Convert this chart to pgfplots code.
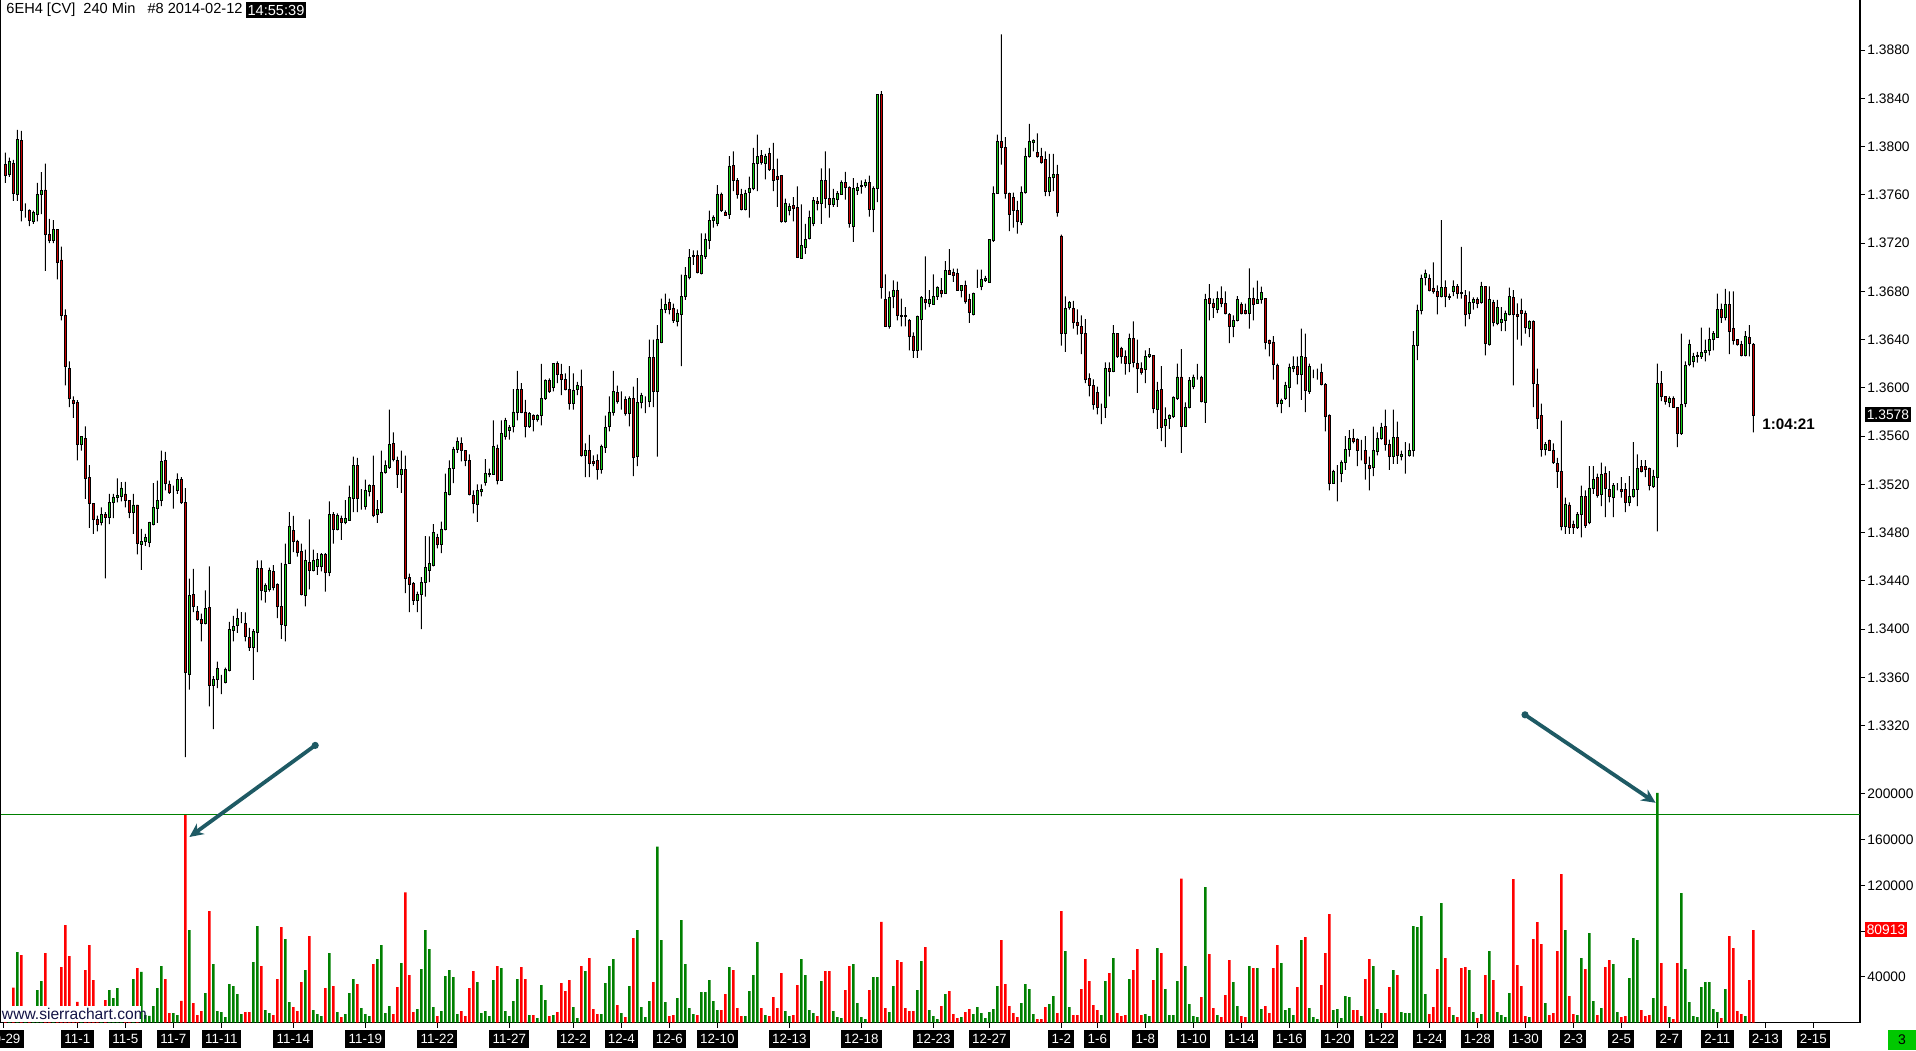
\documentclass[border=0pt]{standalone}
\usepackage{pgfplots}
\pgfplotsset{compat=1.18}
\usepackage{pgfplotstable}
\usepackage{fontspec}
\setmainfont{Liberation Sans}
\usetikzlibrary{arrows.meta}
\definecolor{cup}{RGB}{20,205,20}
\definecolor{cdn}{RGB}{200,0,0}
\definecolor{vup}{RGB}{0,128,0}
\definecolor{vdn}{RGB}{255,0,0}
\definecolor{teal2}{RGB}{30,90,100}
\definecolor{boxgreen}{RGB}{0,200,0}
\pgfplotstableread{
k o h l c v
0 13785 13795 13770 13776 10000
1 13777 13791 13775 13788 8000
2 13786 13789 13755 13761 30600
3 13760 13814 13755 13806 61600
4 13805 13813 13738 13747 58900
5 13747 13753 13741 13747 9000
6 13747 13748 13734 13739 8000
7 13738 13747 13736 13745 7000
8 13744 13770 13738 13760 28300
9 13760 13779 13744 13764 36200
10 13764 13786 13697 13727 60700
11 13727 13740 13720 13722 10000
12 13722 13739 13720 13731 9000
13 13731 13731 13690 13704 12000
14 13706 13717 13656 13660 48400
15 13660 13665 13602 13618 85200
16 13616 13622 13584 13591 58100
17 13590 13593 13575 13587 10000
18 13588 13590 13540 13553 18000
19 13553 13560 13548 13560 8000
20 13558 13568 13508 13525 45800
21 13526 13536 13484 13504 67700
22 13504 13504 13479 13491 37000
23 13491 13494 13481 13487 9000
24 13488 13501 13486 13495 10000
25 13495 13497 13442 13493 19500
26 13493 13512 13487 13505 28300
27 13505 13512 13492 13509 21300
28 13509 13525 13505 13511 30000
29 13510 13522 13506 13517 10000
30 13512 13522 13501 13507 12000
31 13507 13507 13492 13497 9000
32 13497 13512 13479 13503 38000
33 13503 13503 13462 13471 47600
34 13470 13483 13449 13473 44400
35 13473 13479 13469 13476 6400
36 13472 13489 13468 13488 5800
37 13487 13521 13486 13501 14300
38 13500 13523 13488 13507 30000
39 13507 13548 13502 13539 49300
40 13540 13547 13515 13521 38000
41 13520 13523 13512 13513 8200
42 13515 13519 13500 13515 8200
43 13515 13529 13512 13524 6400
44 13524 13526 13504 13505 19000
45 13505 13517 13294 13364 182000
46 13362 13442 13350 13428 80800
47 13429 13450 13414 13419 16900
48 13415 13419 13407 13408 6400
49 13408 13413 13390 13405 9900
50 13405 13432 13404 13417 25700
51 13418 13452 13336 13353 97500
52 13353 13361 13317 13358 51000
53 13358 13373 13351 13367 9900
54 13356 13362 13346 13356 9000
55 13356 13368 13355 13367 4700
56 13366 13406 13365 13400 33600
57 13399 13411 13390 13402 31800
58 13403 13417 13397 13409 24800
59 13408 13414 13405 13408 7300
60 13405 13414 13390 13394 9000
61 13393 13401 13382 13385 9000
62 13385 13400 13358 13398 52800
63 13397 13457 13381 13450 84300
64 13450 13457 13424 13432 49300
65 13431 13438 13422 13436 10800
66 13433 13451 13431 13449 8200
67 13448 13453 13432 13435 6400
68 13437 13438 13409 13419 38000
69 13419 13455 13392 13404 83500
70 13403 13471 13390 13454 73000
71 13454 13497 13454 13485 17800
72 13482 13494 13464 13473 13400
73 13473 13474 13460 13464 9900
74 13464 13471 13428 13429 35300
75 13428 13466 13419 13457 45800
76 13455 13491 13433 13449 75600
77 13449 13466 13448 13457 10800
78 13452 13463 13445 13458 7300
79 13452 13463 13448 13462 5500
80 13462 13463 13431 13447 30000
81 13447 13506 13444 13495 60700
82 13495 13497 13471 13483 31800
83 13483 13496 13482 13494 9000
84 13492 13494 13474 13488 4700
85 13488 13507 13487 13492 7300
86 13490 13519 13490 13509 25700
87 13508 13543 13497 13536 38000
88 13536 13542 13497 13508 33600
89 13507 13516 13499 13507 12500
90 13502 13524 13499 13515 7300
91 13514 13520 13510 13519 5500
92 13519 13544 13493 13494 51000
93 13495 13507 13488 13499 55400
94 13497 13548 13496 13530 67700
95 13530 13540 13529 13536 8200
96 13534 13582 13533 13553 14300
97 13554 13563 13539 13541 7300
98 13540 13543 13517 13528 30900
99 13528 13548 13513 13532 51900
100 13532 13544 13430 13442 114000
101 13443 13446 13414 13437 41400
102 13438 13439 13420 13424 9000
103 13424 13431 13414 13429 11700
104 13429 13443 13400 13439 46700
105 13439 13477 13427 13451 80800
106 13449 13477 13439 13454 64200
107 13453 13487 13452 13480 13400
108 13476 13479 13467 13470 5500
109 13470 13489 13463 13483 9900
110 13483 13529 13482 13513 40600
111 13512 13540 13511 13533 45800
112 13533 13551 13521 13549 39700
113 13549 13559 13546 13556 7300
114 13554 13559 13539 13548 9900
115 13548 13548 13535 13540 5500
116 13540 13545 13511 13512 30000
117 13511 13515 13496 13504 44900
118 13503 13520 13489 13515 35300
119 13514 13520 13510 13516 8200
120 13522 13541 13519 13529 9900
121 13528 13533 13526 13529 5500
122 13528 13573 13528 13551 37000
123 13550 13553 13520 13523 49300
124 13523 13573 13523 13562 47600
125 13560 13575 13557 13573 9900
126 13565 13569 13557 13567 5500
127 13568 13599 13563 13580 18700
128 13580 13614 13573 13599 38000
129 13599 13604 13579 13580 48400
130 13580 13590 13559 13568 38000
131 13568 13580 13567 13579 6400
132 13577 13578 13564 13574 6400
133 13574 13578 13572 13577 3800
134 13577 13620 13569 13591 32700
135 13591 13607 13590 13606 19500
136 13606 13608 13596 13597 5500
137 13600 13620 13597 13620 6400
138 13620 13622 13604 13611 9000
139 13611 13620 13594 13607 34400
140 13607 13612 13598 13599 27400
141 13599 13618 13582 13587 37000
142 13587 13612 13582 13598 13400
143 13599 13605 13594 13602 3800
144 13601 13615 13543 13544 49300
145 13544 13554 13526 13548 44900
146 13548 13561 13526 13537 56300
147 13539 13544 13535 13537 11700
148 13540 13545 13524 13532 7300
149 13532 13553 13529 13551 7300
150 13551 13577 13546 13567 34400
151 13568 13593 13564 13580 49300
152 13580 13614 13577 13597 55400
153 13596 13602 13587 13589 15200
154 13589 13597 13582 13589 8200
155 13590 13593 13577 13579 4700
156 13579 13593 13568 13591 31800
157 13591 13601 13527 13542 73800
158 13543 13608 13535 13588 80800
159 13588 13596 13583 13594 13400
160 13590 13593 13579 13590 4700
161 13589 13640 13584 13625 18700
162 13625 13640 13584 13597 35300
163 13597 13652 13543 13640 154000
164 13638 13674 13637 13665 72000
165 13665 13678 13662 13669 17800
166 13671 13674 13661 13665 5500
167 13666 13670 13654 13656 6400
168 13655 13665 13651 13662 21300
169 13661 13694 13618 13676 89600
170 13676 13700 13673 13693 51000
171 13692 13715 13690 13708 12500
172 13709 13714 13702 13710 7300
173 13710 13714 13695 13696 6400
174 13695 13728 13694 13710 26600
175 13709 13728 13707 13723 26600
176 13722 13747 13715 13739 37000
177 13739 13743 13733 13741 18700
178 13736 13768 13734 13760 10800
179 13760 13762 13746 13747 10800
180 13745 13747 13743 13743 24800
181 13744 13792 13740 13784 48400
182 13784 13796 13763 13772 45800
183 13772 13774 13757 13760 12500
184 13760 13765 13747 13748 5500
185 13748 13764 13747 13761 5500
186 13762 13775 13741 13765 27400
187 13765 13799 13764 13786 41400
188 13786 13810 13763 13792 70300
189 13793 13797 13785 13787 12500
190 13786 13794 13773 13792 6400
191 13794 13799 13780 13781 5500
192 13781 13803 13763 13772 22200
193 13775 13790 13750 13773 12500
194 13776 13776 13737 13738 43200
195 13738 13757 13737 13753 9900
196 13747 13753 13743 13750 5500
197 13751 13758 13738 13749 6400
198 13750 13767 13708 13708 32700
199 13707 13752 13707 13718 55400
200 13716 13736 13711 13723 41400
201 13724 13747 13723 13741 10800
202 13736 13758 13734 13755 8200
203 13755 13758 13747 13753 5500
204 13753 13782 13736 13772 36200
205 13772 13796 13749 13757 44900
206 13757 13782 13741 13752 44900
207 13752 13765 13750 13757 9900
208 13756 13763 13750 13761 4700
209 13760 13772 13760 13770 3800
210 13770 13779 13756 13766 28300
211 13766 13767 13733 13736 49300
212 13734 13774 13721 13765 51000
213 13764 13770 13760 13766 16900
214 13767 13772 13761 13768 4700
215 13768 13773 13766 13770 2900
216 13770 13776 13742 13748 28300
217 13748 13767 13729 13765 39700
218 13765 13843 13754 13843 39700
219 13843 13846 13674 13683 88100
220 13673 13694 13651 13651 12500
221 13651 13680 13649 13675 9000
222 13676 13689 13666 13681 31800
223 13681 13688 13656 13660 54600
224 13660 13674 13651 13659 52800
225 13660 13667 13651 13659 12500
226 13656 13657 13631 13643 9900
227 13643 13646 13625 13631 9900
228 13631 13660 13625 13659 28300
229 13657 13676 13631 13675 53700
230 13673 13709 13665 13671 65900
231 13670 13681 13667 13673 10800
232 13669 13694 13669 13676 5500
233 13676 13684 13673 13683 2900
234 13681 13691 13675 13678 14300
235 13678 13705 13678 13697 24800
236 13697 13715 13694 13694 27400
237 13696 13699 13688 13693 7300
238 13695 13699 13681 13681 3800
239 13681 13685 13675 13685 4700
240 13685 13689 13670 13672 9000
241 13673 13678 13654 13663 11700
242 13661 13679 13660 13678 7300
243 13685 13698 13683 13685 13400
244 13684 13698 13681 13690 8200
245 13689 13693 13688 13691 3800
246 13687 13723 13687 13723 9000
247 13722 13767 13721 13761 11700
248 13761 13810 13761 13804 31800
249 13804 13893 13785 13799 72000
250 13799 13808 13757 13761 33600
251 13761 13762 13730 13744 14300
252 13758 13762 13733 13747 8200
253 13747 13755 13728 13738 4700
254 13737 13767 13735 13762 16900
255 13762 13799 13761 13792 33600
256 13792 13819 13791 13804 29200
257 13803 13806 13796 13805 7300
258 13795 13811 13791 13792 2900
259 13792 13799 13786 13787 2900
260 13789 13796 13759 13763 13400
261 13763 13794 13759 13774 16000
262 13774 13794 13763 13777 23100
263 13777 13785 13742 13745 8200
264 13726 13727 13635 13645 97500
265 13645 13676 13630 13666 62400
266 13667 13672 13665 13671 13400
267 13666 13672 13649 13654 6400
268 13654 13665 13644 13652 6400
269 13651 13660 13628 13645 29200
270 13645 13657 13604 13607 55400
271 13608 13612 13593 13602 36200
272 13602 13607 13582 13586 15200
273 13596 13601 13578 13584 10800
274 13584 13587 13570 13584 6400
275 13584 13621 13575 13616 36200
276 13616 13621 13593 13614 43200
277 13614 13652 13613 13645 56300
278 13645 13645 13625 13626 8200
279 13633 13634 13620 13626 5500
280 13626 13631 13611 13620 6400
281 13620 13645 13613 13641 38000
282 13641 13655 13617 13621 45800
283 13620 13640 13596 13616 64200
284 13616 13621 13611 13613 6400
285 13615 13631 13604 13626 7300
286 13626 13633 13625 13628 5500
287 13627 13627 13579 13583 37000
288 13582 13605 13566 13598 65100
289 13599 13618 13556 13567 60700
290 13569 13584 13551 13574 29200
291 13575 13578 13566 13577 6400
292 13576 13593 13575 13592 6400
293 13591 13620 13590 13609 36200
294 13609 13632 13546 13568 126000
295 13568 13588 13568 13584 49300
296 13584 13609 13583 13606 16000
297 13601 13611 13599 13609 5500
298 13609 13620 13607 13609 4700
299 13609 13610 13588 13589 22200
300 13588 13678 13571 13673 118500
301 13674 13686 13656 13670 59800
302 13670 13674 13658 13667 12500
303 13665 13680 13662 13674 6400
304 13674 13684 13667 13670 4700
305 13670 13680 13661 13662 23900
306 13661 13662 13637 13651 54600
307 13651 13660 13642 13656 35300
308 13656 13676 13655 13673 14300
309 13669 13671 13661 13662 5500
310 13664 13670 13661 13662 4700
311 13662 13699 13649 13674 49300
312 13674 13683 13656 13669 47600
313 13670 13689 13670 13673 47600
314 13673 13684 13670 13679 11700
315 13674 13674 13632 13638 14300
316 13639 13640 13626 13637 8200
317 13638 13643 13607 13619 47600
318 13619 13620 13584 13587 67700
319 13587 13591 13579 13590 51900
320 13591 13605 13590 13602 10800
321 13600 13620 13584 13617 12500
322 13616 13626 13613 13618 6400
323 13618 13626 13603 13611 30900
324 13611 13649 13590 13626 72000
325 13625 13645 13580 13598 74700
326 13597 13620 13595 13618 12500
327 13613 13615 13608 13613 4700
328 13612 13616 13607 13612 2900
329 13613 13620 13602 13603 32700
330 13603 13604 13564 13576 60700
331 13577 13578 13515 13521 94800
332 13521 13532 13521 13531 10800
333 13529 13536 13506 13529 11700
334 13529 13540 13522 13538 3800
335 13538 13560 13532 13549 23100
336 13549 13565 13543 13558 22200
337 13558 13566 13554 13556 10800
338 13557 13558 13535 13548 10800
339 13548 13557 13540 13548 5500
340 13548 13560 13524 13537 38000
341 13536 13543 13515 13533 55400
342 13534 13568 13527 13548 49300
343 13547 13563 13544 13558 11700
344 13558 13571 13557 13567 8200
345 13568 13582 13548 13553 8200
346 13553 13557 13532 13543 30900
347 13543 13582 13537 13559 45800
348 13559 13572 13537 13544 41400
349 13543 13548 13540 13545 9000
350 13544 13555 13529 13544 8200
351 13544 13554 13543 13548 8200
352 13548 13647 13543 13635 84300
353 13635 13669 13623 13664 83500
354 13664 13694 13661 13691 93100
355 13692 13698 13685 13695 24800
356 13691 13694 13680 13681 7300
357 13682 13704 13678 13680 13400
358 13680 13685 13661 13676 46700
359 13676 13739 13675 13683 104500
360 13683 13689 13667 13676 56300
361 13676 13678 13673 13675 13400
362 13680 13689 13676 13684 6400
363 13684 13686 13674 13678 4700
364 13679 13717 13674 13678 47600
365 13677 13681 13651 13661 48400
366 13662 13680 13657 13671 45800
367 13671 13675 13665 13673 9000
368 13673 13675 13666 13670 3800
369 13671 13688 13670 13684 7300
370 13684 13684 13627 13637 41400
371 13636 13684 13635 13673 62400
372 13671 13673 13651 13654 37000
373 13653 13673 13652 13667 9000
374 13654 13667 13647 13657 6400
375 13656 13664 13647 13662 4700
376 13661 13683 13660 13676 25700
377 13675 13681 13602 13661 125500
378 13661 13670 13640 13659 50200
379 13664 13674 13635 13662 31800
380 13662 13664 13645 13650 5500
381 13649 13656 13642 13655 4700
382 13655 13656 13584 13604 73000
383 13603 13616 13566 13575 87800
384 13577 13587 13543 13549 68600
385 13549 13555 13544 13553 16900
386 13556 13557 13548 13548 6400
387 13548 13554 13537 13538 8200
388 13537 13542 13517 13531 62400
389 13531 13573 13482 13485 129900
390 13485 13509 13479 13503 80800
391 13503 13505 13479 13484 23100
392 13487 13490 13479 13484 7300
393 13484 13497 13483 13495 6400
394 13495 13519 13476 13510 56300
395 13510 13515 13484 13486 46700
396 13488 13535 13487 13517 78200
397 13517 13535 13512 13524 18700
398 13526 13529 13509 13511 6400
399 13512 13538 13502 13528 12500
400 13529 13535 13493 13517 48400
401 13516 13531 13505 13510 54600
402 13509 13521 13493 13519 51000
403 13519 13521 13515 13519 9000
404 13516 13526 13509 13514 4700
405 13516 13521 13497 13505 5500
406 13505 13527 13502 13510 38800
407 13510 13555 13509 13516 73800
408 13516 13545 13502 13533 72000
409 13535 13540 13530 13531 10800
410 13535 13540 13526 13532 5500
411 13533 13534 13515 13519 6400
412 13518 13532 13517 13527 21300
413 13526 13620 13481 13604 201000
414 13604 13614 13589 13593 51900
415 13593 13593 13586 13589 14300
416 13588 13593 13584 13591 4700
417 13591 13593 13584 13584 2900
418 13584 13584 13551 13562 51900
419 13562 13645 13561 13586 113200
420 13587 13622 13584 13619 46700
421 13619 13640 13618 13636 17800
422 13622 13629 13617 13626 5500
423 13626 13630 13621 13627 4700
424 13626 13650 13624 13629 30900
425 13629 13640 13622 13631 35300
426 13631 13650 13627 13640 35300
427 13640 13647 13631 13645 11700
428 13642 13678 13642 13665 9000
429 13665 13670 13654 13658 3800
430 13658 13682 13656 13669 29200
431 13669 13680 13628 13647 75600
432 13649 13680 13636 13639 65100
433 13640 13640 13635 13636 9900
434 13636 13639 13626 13627 7300
435 13627 13647 13626 13643 5500
436 13642 13652 13626 13637 37000
437 13636 13637 13563 13577 80913
}\data
\begin{document}
\begin{tikzpicture}
\fill[white] (0,0) rectangle (958pt,525pt);
% ---------------- volume panel ----------------
\begin{axis}[
  at={(0pt,13.75pt)}, anchor=south west, scale only axis,
  width=930pt, height=121.25pt,
  xmin=-1.33, xmax=463.67, ymin=0, ymax=212250,
  axis x line*=bottom, axis y line*=right,
  axis line style={black, line width=0.6pt},
  tick align=outside, major tick length=2.5pt,
  tick style={black, line width=0.5pt},
  scaled y ticks=false,
  ytick={40000,80000,120000,160000,200000},
  yticklabels={40000,,120000,160000,200000},
  yticklabel style={font=\fontsize{6.9}{8}\selectfont, anchor=west, inner sep=0pt, xshift=1pt},
  xtick={-0.5,18,30,42,54,72,90,108,126,142,154,166,178,196,214,232,246,264,273,285,297,309,321,333,344,356,368,380,392,404,416,428,440,452},
  xticklabels={10-29,11-1,11-5,11-7,11-11,11-14,11-19,11-22,11-27,12-2,12-4,12-6,12-10,12-13,12-18,12-23,12-27,1-2,1-6,1-8,1-10,1-14,1-16,1-20,1-22,1-24,1-28,1-30,2-3,2-5,2-7,2-11,2-13,2-15},
  xticklabel style={font=\fontsize{6.7}{8}\selectfont, fill=black, text=white, inner xsep=1.7pt, inner ysep=2.3pt, anchor=north, yshift=-0.8pt},
  clip=false,
]
\addplot[restrict expr to domain={\thisrow{c}-\thisrow{o}}{0:10000},
  ybar, bar width=0.6, bar shift=0pt, fill=vup, draw=none] table[x=k, y=v]{\data};
\addplot[restrict expr to domain={\thisrow{c}-\thisrow{o}}{-10000:-0.5},
  ybar, bar width=0.6, bar shift=0pt, fill=vdn, draw=none] table[x=k, y=v]{\data};
\addplot[vup, line width=0.5pt] coordinates {(-1.33,182000) (463.67,182000)};
\end{axis}
% ---------------- price panel: axis + wicks ----------------
\begin{axis}[
  at={(0pt,135pt)}, anchor=south west, scale only axis,
  width=930pt, height=390pt,
  xmin=-1.33, xmax=463.67, ymin=1.32749, ymax=1.39215,
  axis x line=none, axis y line*=right,
  axis line style={black, line width=0.6pt},
  tick align=outside, major tick length=2.5pt,
  tick style={black, line width=0.5pt},
  ytick={1.332,1.336,1.340,1.344,1.348,1.352,1.356,1.360,1.364,1.368,1.372,1.376,1.380,1.384,1.388},
  yticklabels={1.3320,1.3360,1.3400,1.3440,1.3480,1.3520,1.3560,1.3600,1.3640,1.3680,1.3720,1.3760,1.3800,1.3840,1.3880},
  yticklabel style={font=\fontsize{6.9}{8}\selectfont, anchor=west, inner sep=0pt, xshift=1pt},
  ybar stacked, bar width=0.5pt,
]
\addplot[draw=none, fill=none] table[x=k, y expr=\thisrow{l}/10000]{\data};
\addplot[draw=none, fill=black] table[x=k, y expr=(\thisrow{h}-\thisrow{l})/10000]{\data};
\end{axis}
% ---------------- price panel: bodies ----------------
\begin{axis}[
  at={(0pt,135pt)}, anchor=south west, scale only axis,
  width=930pt, height=390pt,
  xmin=-1.33, xmax=463.67, ymin=1.32749, ymax=1.39215,
  hide axis,
  ybar stacked, bar width=1.2pt,
]
\addplot[draw=none, fill=none] table[x=k, y expr={min(\thisrow{o},\thisrow{c})/10000}]{\data};
\addplot[draw=black, line width=0.45pt, fill=cup] table[x=k, y expr={(\thisrow{c}>\thisrow{o}) ? (\thisrow{c}-\thisrow{o})/10000 : 0}]{\data};
\addplot[draw=black, line width=0.45pt, fill=cdn] table[x=k, y expr={(\thisrow{c}<\thisrow{o}) ? (\thisrow{o}-\thisrow{c})/10000 : 0}]{\data};
\end{axis}
% left border
\draw[black, line width=0.6pt] (0.3pt,13.75pt) -- (0.3pt,525pt);
% sierrachart watermark
\fill[white] (0.6pt,14.2pt) rectangle (70.5pt,22pt);
\node[anchor=west, inner sep=0pt, font=\fontsize{7.8}{9}\selectfont, text={rgb,255:red,20;green,20;blue,70}] at (0.8pt,18pt) {www.sierrachart.com};
% title
\node[anchor=north west, inner sep=0pt, font=\fontsize{7.3}{9}\selectfont] (t) at (3pt,523.5pt) {6EH4 [CV]\ \ 240 Min\ \ \ \#8 2014-02-12};
\node[anchor=west, fill=black, text=white, inner xsep=0.6pt, inner ysep=1.3pt, font=\fontsize{7.3}{9}\selectfont] at ([xshift=1.5pt]t.east) {14:55:39};
% right-side labels
\node[anchor=west, fill=black, text=white, inner xsep=1pt, inner ysep=1.2pt, font=\fontsize{6.9}{8}\selectfont] at (932.2pt,317.8pt) {1.3578};
\node[anchor=west, fill=vdn, text=white, inner xsep=1pt, inner ysep=1.2pt, font=\fontsize{6.9}{8}\selectfont] at (932.2pt,60.3pt) {80913};
\node[anchor=west, inner sep=0pt, font=\bfseries\fontsize{7.6}{9}\selectfont] at (881pt,313pt) {1:04:21};
\fill[boxgreen] (944pt,0pt) rectangle (958pt,10pt);
\node[inner sep=0pt, font=\fontsize{7}{8}\selectfont] at (951pt,5pt) {3};
% annotation arrows
\draw[teal2, line width=1.9pt, -{Stealth[length=7pt, width=6.5pt]}] (157.6pt,152.3pt) -- (94.7pt,106.5pt);
\fill[teal2] (157.6pt,152.3pt) circle (1.8pt);
\draw[teal2, line width=1.9pt, -{Stealth[length=7pt, width=6.5pt]}] (762.5pt,167.6pt) -- (827.8pt,123.6pt);
\fill[teal2] (762.5pt,167.6pt) circle (1.8pt);
\pgfresetboundingbox
\useasboundingbox (0,0) rectangle (958pt,525pt);
\end{tikzpicture}
\end{document}
